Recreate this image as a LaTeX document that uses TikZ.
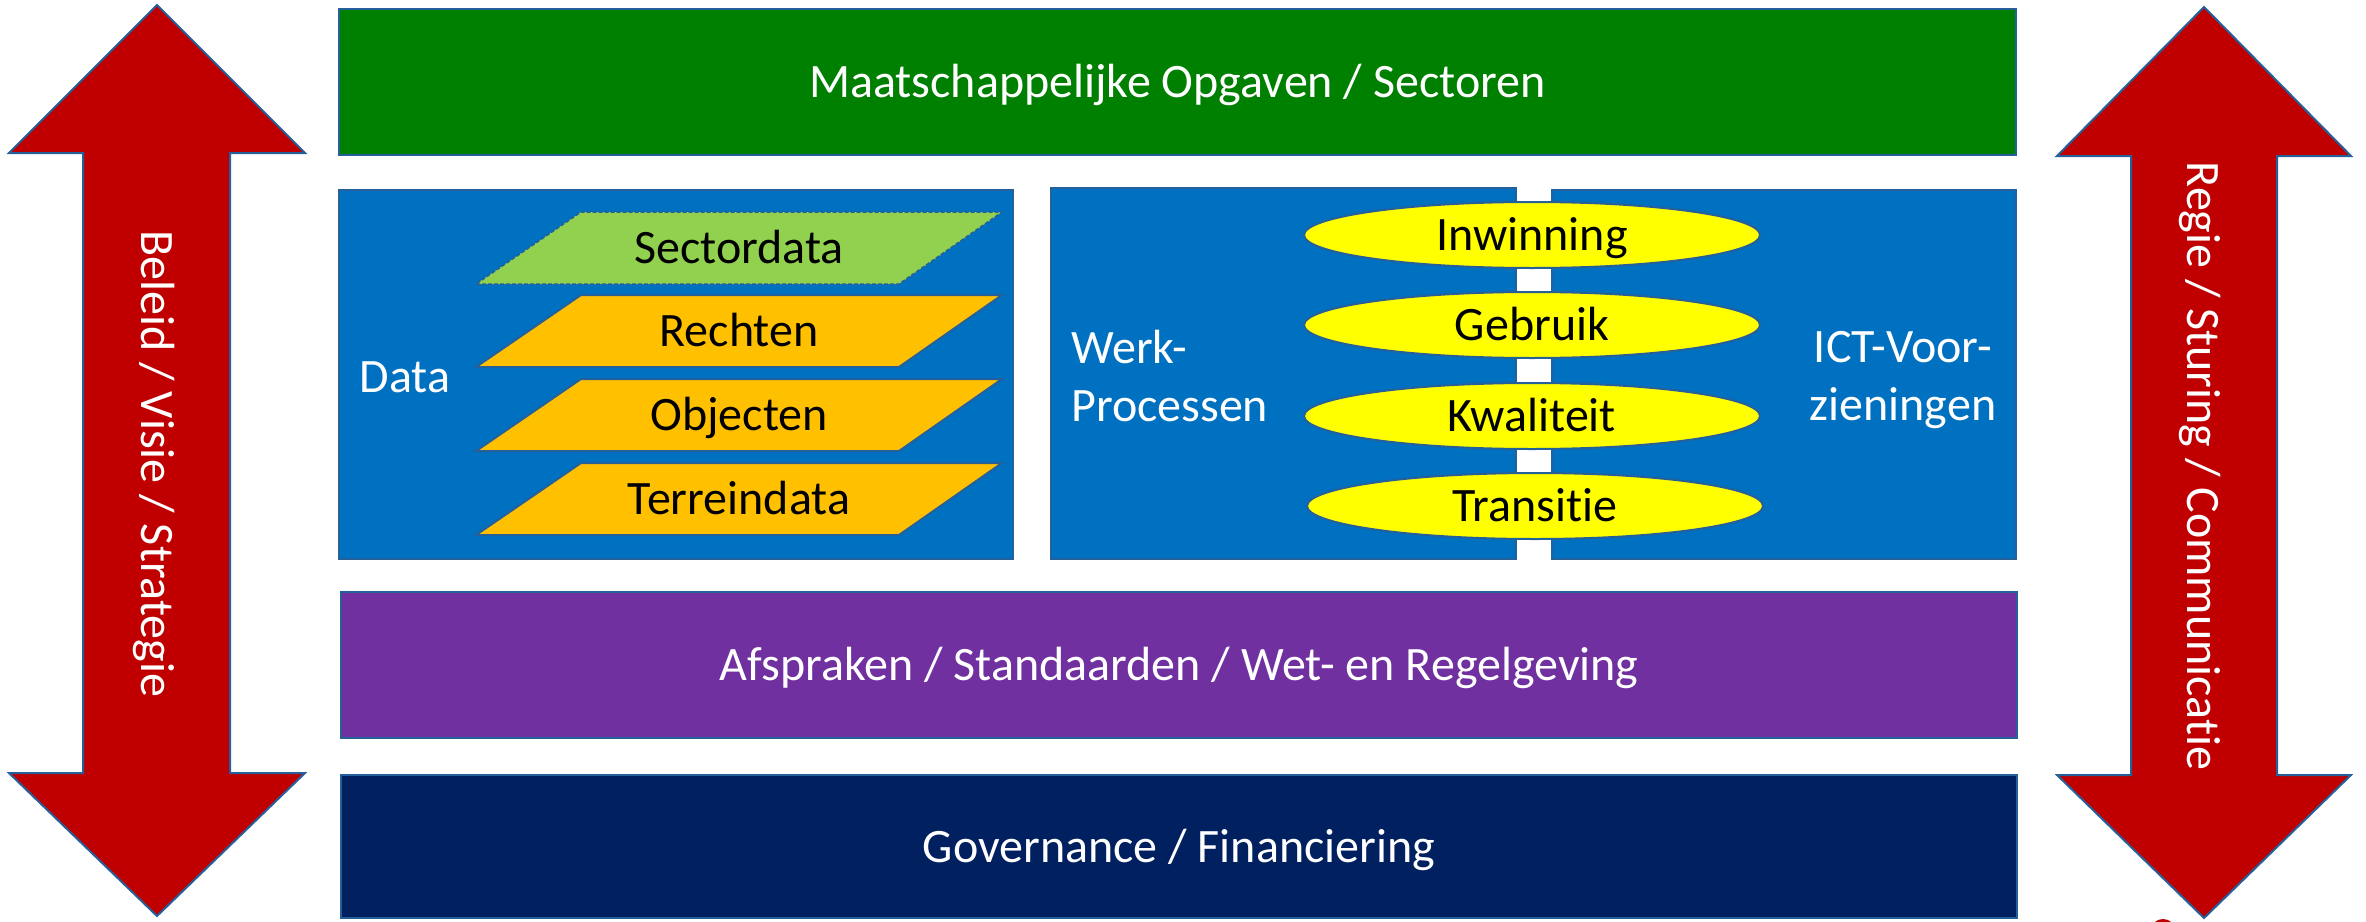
\documentclass[tikz,border=0pt]{standalone}
\usepackage{fontspec}
\setmainfont{Carlito}[Ligatures=NoCommon]
\usetikzlibrary{shapes.geometric}
\definecolor{grn}{HTML}{008000}
\definecolor{blu}{HTML}{0070C0}
\definecolor{prp}{HTML}{7030A0}
\definecolor{nvy}{HTML}{002060}
\definecolor{rd}{HTML}{C00000}
\definecolor{yel}{HTML}{FFFF00}
\definecolor{org}{HTML}{FFC000}
\definecolor{lgr}{HTML}{92D050}
\definecolor{outl}{HTML}{25609A}
\begin{document}
\begin{tikzpicture}[x=1pt,y=-1pt,
  txt/.style={font=\fontsize{48}{58}\selectfont, inner sep=0pt, text height=31pt, text depth=0pt},
  band/.style={draw=outl, line width=2pt, inner sep=0pt},
  arr/.style={fill=rd, draw=outl, line width=2pt, line join=miter},
  para/.style={draw=outl, line width=2pt},
  ell/.style={ellipse, draw=outl, line width=2pt, fill=yel, minimum width=456pt, minimum height=66pt, txt}
]
\useasboundingbox (0,0) rectangle (2366,921);

% side arrows
\filldraw[arr] (157,5) -- (305,153) -- (230,153) -- (230,773) -- (305,773) -- (157,916)
  -- (9,773) -- (83,773) -- (83,153) -- (9,153) -- cycle;
\node[txt, rotate=-90, text=white] (beleid) at (157,464) {Beleid / Visie / Strategie};

\filldraw[arr] (2204,7) -- (2351,156) -- (2277,156) -- (2277,775) -- (2351,775) -- (2204,918)
  -- (2057,775) -- (2131,775) -- (2131,156) -- (2057,156) -- cycle;
\node[txt, rotate=-90, text=white] (regie) at (2203,466) {Regie / Sturing / Communicatie};

% small red shape at bottom edge
\fill[rd] (2163,930) ellipse [x radius=12, y radius=11];

% horizontal bands
\node[band, txt, fill=grn, text=white, minimum width=1677pt, minimum height=146pt] (maat) at (1177.5,82) {Maatschappelijke Opgaven / Sectoren};
\node[band, txt, fill=prp, text=white, minimum width=1676pt, minimum height=146pt] (afspr) at (1179,665) {Afspraken / Standaarden / Wet- en Regelgeving};
\node[band, txt, fill=nvy, text=white, minimum width=1676pt, minimum height=143pt] (gov) at (1179,846.5) {Governance / Financiering};

% middle blocks
\node[band, fill=blu, minimum width=674pt, minimum height=369pt] (datab) at (676,374.5) {};
\node[band, fill=blu, minimum width=465pt, minimum height=371pt] (werkb) at (1283.5,373.5) {};
\node[band, fill=blu, minimum width=464pt, minimum height=369pt] (ictb) at (1784,374.5) {};

\node[txt, text=white] (datal) at (405,377) {Data};
\node[font=\fontsize{48}{58}\selectfont, inner sep=0pt, text=white, align=left, anchor=west] (werkl) at (1071,376) {Werk-\\Processen};
\node[font=\fontsize{48}{58}\selectfont, inner sep=0pt, text=white, align=center] (ictl) at (1903,380) {ICT-Voor-\\zieningen};

% data layers
\filldraw[fill=lgr, draw=outl, line width=1.5pt, dash pattern=on 4pt off 2pt] (476,284) -- (899,284) -- (1002,212) -- (581,212) -- cycle;
\node[txt] (sector) at (739,248) {Sectordata};
\filldraw[para, fill=org] (476,367) -- (899,367) -- (1002,295) -- (581,295) -- cycle;
\node[txt] (rechten) at (739,331) {Rechten};
\filldraw[para, fill=org] (476,451) -- (899,451) -- (1002,379) -- (581,379) -- cycle;
\node[txt] (objecten) at (739,415) {Objecten};
\filldraw[para, fill=org] (476,535) -- (899,535) -- (1002,463) -- (581,463) -- cycle;
\node[txt] (terrein) at (739,499) {Terreindata};

% process ellipses
\node[ell] (inw) at (1532,235) {Inwinning};
\node[ell] (gebr) at (1532,325) {Gebruik};
\node[ell] (kwal) at (1532,416) {Kwaliteit};
\node[ell] (trans) at (1535,506) {Transitie};
\end{tikzpicture}
\end{document}
